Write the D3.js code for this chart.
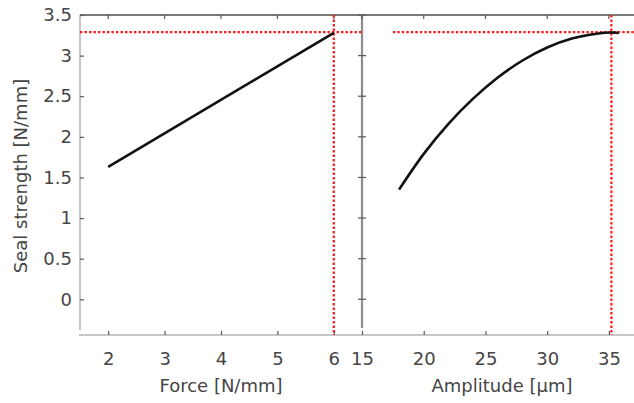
<!DOCTYPE html>
<html>
<head>
<meta charset="utf-8">
<script src="https://cdn.jsdelivr.net/npm/d3@7"></script>
<style>
  html, body { margin: 0; padding: 0; background: #fff; }
  svg { display: block; }
  text { font-family: "DejaVu Sans", "Liberation Sans", sans-serif; fill: #454545; }
</style>
</head>
<body>
<svg id="chart" width="634" height="403"></svg>
<script>
// Seal strength as a function of sealing force (left) and sonotrode amplitude (right)
const forceN = [2, 6];
const strengthVsForce = [1.63, 3.28];

const amplitudeUm = [18, 20, 22, 24, 26, 28, 30, 32, 34, 35.2, 35.8];
const strengthVsAmplitude = [1.35, 1.79, 2.16, 2.47, 2.73, 2.94, 3.10, 3.21, 3.27, 3.285, 3.28];

// Optimum operating point (red dotted guide lines)
const optimumForce = 6.0;
const optimumAmplitude = 35.2;
const optimumStrength = 3.29;
const guideStartAmplitude = 17.5;

const strengthTicks = [0, 0.5, 1, 1.5, 2, 2.5, 3, 3.5];
const forceTicks = [2, 3, 4, 5, 6];
const amplitudeTicks = [15, 20, 25, 30, 35];

const svg = d3.select("#chart");

const plotTop = 15, yAxisBottom = 330, xAxisY = 335;
const leftX0 = 80, splitX = 362, rightX1 = 641;

const y = d3.scaleLinear().domain([-0.378, 3.5]).range([yAxisBottom, plotTop]);
const xForce = d3.scaleLinear().domain([1.5, 6.5]).range([leftX0, splitX]);
const xAmp = d3.scaleLinear().domain([15, 37.6]).range([splitX, rightX1]);

const tickColor = "#5a5a5a";
const fontSize = "18px";

// Frame lines
svg.append("line").attr("x1", leftX0).attr("x2", 634).attr("y1", plotTop).attr("y2", plotTop)
  .attr("stroke", "#7a7a7a").attr("stroke-width", 2);
svg.append("line").attr("x1", leftX0).attr("x2", leftX0).attr("y1", plotTop).attr("y2", yAxisBottom)
  .attr("stroke", "#c4c4c4").attr("stroke-width", 2);
svg.append("line").attr("x1", leftX0 - 1).attr("x2", 634).attr("y1", xAxisY).attr("y2", xAxisY)
  .attr("stroke", "#b4b4b4").attr("stroke-width", 1.6);
svg.append("line").attr("x1", splitX).attr("x2", splitX).attr("y1", plotTop).attr("y2", yAxisBottom - 2)
  .attr("stroke", "#8c8c8c").attr("stroke-width", 2.2);

// Y axis (left)
const yAxis = svg.append("g").attr("transform", `translate(${leftX0},0)`)
  .call(d3.axisLeft(y).tickValues(strengthTicks).tickSize(-4).tickPadding(8)
    .tickFormat(d3.format("")));
yAxis.select(".domain").remove();
yAxis.selectAll(".tick line").attr("stroke", tickColor).attr("stroke-width", 1.2);
yAxis.selectAll("text").attr("font-size", fontSize).attr("fill", "#454545").attr("font-family", null);

// Y ticks on the split line, both sides
svg.append("g").selectAll("line").data(strengthTicks).join("line")
  .attr("x1", splitX - 4).attr("x2", splitX + 4)
  .attr("y1", d => y(d)).attr("y2", d => y(d))
  .attr("stroke", tickColor).attr("stroke-width", 1.2);

// Bottom axes
function bottomAxis(scale, ticks) {
  const g = svg.append("g").attr("transform", `translate(0,${xAxisY})`)
    .call(d3.axisBottom(scale).tickValues(ticks).tickSize(-4).tickPadding(17)
      .tickFormat(d3.format("")));
  g.select(".domain").remove();
  g.selectAll(".tick line").attr("stroke", tickColor).attr("stroke-width", 1.2);
  g.selectAll("text").attr("font-size", fontSize).attr("fill", "#454545").attr("font-family", null);
  // mirrored ticks on the top edge
  svg.append("g").selectAll("line").data(ticks).join("line")
    .attr("x1", d => scale(d)).attr("x2", d => scale(d))
    .attr("y1", plotTop).attr("y2", plotTop + 4)
    .attr("stroke", tickColor).attr("stroke-width", 1.2);
}
bottomAxis(xForce, forceTicks);
bottomAxis(xAmp, amplitudeTicks);

// Red dotted guide lines at the optimum
const guide = svg.append("g").attr("stroke", "#ff1a1a").attr("stroke-width", 2.2)
  .attr("stroke-dasharray", "2.4,2.1").attr("fill", "none");
guide.append("line").attr("x1", xForce(1.5)).attr("x2", splitX)
  .attr("y1", y(optimumStrength)).attr("y2", y(optimumStrength));
guide.append("line").attr("x1", xAmp(guideStartAmplitude)).attr("x2", 634)
  .attr("y1", y(optimumStrength)).attr("y2", y(optimumStrength));
guide.append("line").attr("x1", xForce(optimumForce)).attr("x2", xForce(optimumForce))
  .attr("y1", plotTop).attr("y2", xAxisY);
guide.append("line").attr("x1", xAmp(optimumAmplitude)).attr("x2", xAmp(optimumAmplitude))
  .attr("y1", plotTop).attr("y2", xAxisY);

// Data curves
const forceLine = d3.line().x(d => xForce(d[0])).y(d => y(d[1]));
svg.append("path").datum(d3.zip(forceN, strengthVsForce))
  .attr("d", forceLine).attr("fill", "none").attr("stroke", "#111").attr("stroke-width", 2.6);

const ampLine = d3.line().x(d => xAmp(d[0])).y(d => y(d[1])).curve(d3.curveCatmullRom.alpha(0.5));
svg.append("path").datum(d3.zip(amplitudeUm, strengthVsAmplitude))
  .attr("d", ampLine).attr("fill", "none").attr("stroke", "#111").attr("stroke-width", 2.6);

// Axis titles
svg.append("text").attr("x", xForce(4)).attr("y", 392).attr("text-anchor", "middle")
  .attr("font-size", fontSize).text("Force [N/mm]");
svg.append("text").attr("x", 502).attr("y", 392).attr("text-anchor", "middle")
  .attr("font-size", fontSize).text("Amplitude [µm]");
svg.append("text").attr("transform", "translate(27,176) rotate(-90)").attr("text-anchor", "middle")
  .attr("font-size", fontSize).text("Seal strength [N/mm]");
</script>
</body>
</html>
